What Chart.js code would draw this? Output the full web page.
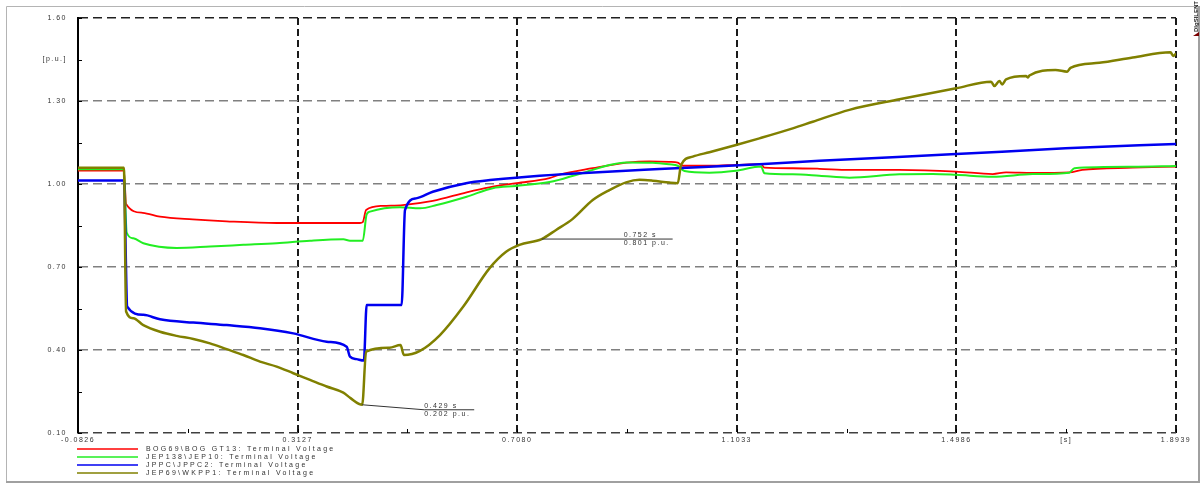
<!DOCTYPE html>
<html>
<head>
<meta charset="utf-8">
<script src="https://cdn.jsdelivr.net/npm/chart.js@4/dist/chart.umd.min.js"></script>
<style>
  body { margin: 0; background: #fff; }
  canvas { display: block; }
</style>
</head>
<body>
<canvas id="plot" width="1201" height="485"></canvas>
<script>
// tick positions / labels
const xTicks = [-0.0826, 0.1151, 0.3127, 0.5104, 0.7080, 0.9057, 1.1033, 1.3010, 1.4986, 1.6962, 1.8939];
const xTickLabels = ["-0.0826", "", "0.3127", "", "0.7080", "", "1.1033", "", "1.4986", "[s]", "1.8939"];
const yTicks = [0.10, 0.25, 0.40, 0.55, 0.70, 0.85, 1.00, 1.15, 1.30, 1.45, 1.60];
const yTickLabels = ["0.10", "", "0.40", "", "0.70", "", "1.00", "", "1.30", "[p.u.]", "1.60"];

// BOG69\BOG GT13
const timeBOG = [-0.0826, 0.0, 0.004, 0.034, 0.065, 0.124, 0.185, 0.275, 0.425, 0.430, 0.436, 0.466, 0.502, 0.556, 0.617, 0.658, 0.707, 0.766, 0.783, 0.844, 0.905, 0.946, 0.982, 0.997, 1.006, 1.054, 1.102, 1.147, 1.153, 1.204, 1.252, 1.306, 1.396, 1.498, 1.564, 1.588, 1.636, 1.702, 1.725, 1.816, 1.8939];
const voltBOG = [1.048, 1.048, 0.928, 0.896, 0.882, 0.872, 0.865, 0.859, 0.859, 0.862, 0.906, 0.921, 0.924, 0.939, 0.970, 0.988, 1.003, 1.021, 1.033, 1.057, 1.077, 1.082, 1.080, 1.077, 1.066, 1.066, 1.069, 1.072, 1.059, 1.057, 1.055, 1.051, 1.051, 1.045, 1.036, 1.042, 1.040, 1.042, 1.051, 1.059, 1.063];

// JEP138\JEP10
const timeJEP10 = [-0.0826, 0.0, 0.005, 0.017, 0.035, 0.095, 0.155, 0.215, 0.275, 0.335, 0.395, 0.407, 0.430, 0.437, 0.443, 0.497, 0.533, 0.563, 0.617, 0.664, 0.706, 0.766, 0.783, 0.844, 0.874, 0.904, 0.952, 0.982, 0.997, 1.009, 1.054, 1.102, 1.147, 1.153, 1.204, 1.252, 1.306, 1.396, 1.456, 1.498, 1.564, 1.636, 1.702, 1.711, 1.816, 1.8939];
const voltJEP10 = [1.053, 1.053, 0.824, 0.804, 0.786, 0.769, 0.774, 0.780, 0.786, 0.795, 0.800, 0.795, 0.795, 0.890, 0.900, 0.916, 0.912, 0.924, 0.954, 0.985, 0.993, 1.007, 1.015, 1.051, 1.069, 1.078, 1.077, 1.071, 1.066, 1.047, 1.041, 1.048, 1.063, 1.039, 1.035, 1.030, 1.023, 1.035, 1.036, 1.033, 1.026, 1.036, 1.041, 1.057, 1.062, 1.065];

// JPPC\JPPC2
const timeJPPC = [-0.0826, 0.0, 0.006, 0.035, 0.065, 0.125, 0.185, 0.245, 0.305, 0.365, 0.401, 0.407, 0.419, 0.432, 0.437, 0.500, 0.506, 0.526, 0.556, 0.616, 0.664, 0.706, 0.796, 0.964, 1.144, 1.252, 1.498, 1.695, 1.8939];
const voltJPPC = [1.013, 1.013, 0.557, 0.527, 0.511, 0.499, 0.490, 0.479, 0.460, 0.430, 0.412, 0.376, 0.367, 0.362, 0.563, 0.563, 0.906, 0.948, 0.972, 1.003, 1.015, 1.023, 1.036, 1.054, 1.071, 1.084, 1.108, 1.129, 1.145];

// JEP69\WKPP1
const timeWKPP = [-0.0826, 0.0, 0.004, 0.017, 0.035, 0.065, 0.095, 0.125, 0.155, 0.185, 0.215, 0.245, 0.275, 0.305, 0.335, 0.365, 0.395, 0.408, 0.429, 0.436, 0.478, 0.498, 0.504, 0.533, 0.569, 0.611, 0.658, 0.688, 0.712, 0.752, 0.778, 0.808, 0.844, 0.874, 0.904, 0.928, 0.952, 0.982, 0.997, 1.003, 1.024, 1.054, 1.102, 1.144, 1.204, 1.240, 1.306, 1.396, 1.498, 1.561, 1.567, 1.576, 1.581, 1.588, 1.624, 1.627, 1.630, 1.677, 1.698, 1.704, 1.756, 1.816, 1.884, 1.889, 1.8939];
const voltWKPP = [1.059, 1.059, 0.539, 0.515, 0.490, 0.466, 0.451, 0.440, 0.424, 0.403, 0.382, 0.358, 0.340, 0.316, 0.292, 0.268, 0.246, 0.226, 0.202, 0.394, 0.408, 0.418, 0.382, 0.397, 0.454, 0.557, 0.695, 0.755, 0.780, 0.801, 0.834, 0.874, 0.942, 0.978, 1.006, 1.015, 1.012, 1.005, 1.003, 1.069, 1.099, 1.115, 1.141, 1.165, 1.201, 1.225, 1.268, 1.306, 1.346, 1.370, 1.354, 1.372, 1.360, 1.378, 1.390, 1.385, 1.392, 1.412, 1.406, 1.420, 1.438, 1.457, 1.476, 1.463, 1.472];

// cursor labels
const markTimes = [0.429, 0.752];
const markVolts = [0.202, 0.801];

const FONT = "'Liberation Sans', Arial, sans-serif";

function pts(t, v) {
  return t.map((x, i) => ({ x: x, y: v[i] }));
}

// frame, logo, letter spacing
const framePlugin = {
  id: 'frame',
  beforeDraw(chart) {
    const ctx = chart.ctx;
    ctx.letterSpacing = '1.5px';
    ctx.save();
    ctx.strokeStyle = '#b4b4b4';
    ctx.lineWidth = 1;
    ctx.beginPath();
    ctx.moveTo(6.5, 482); ctx.lineTo(6.5, 6.5); ctx.lineTo(1199, 6.5);
    ctx.stroke();
    ctx.strokeStyle = '#a0a0a0';
    ctx.lineWidth = 2;
    ctx.beginPath();
    ctx.moveTo(6, 482); ctx.lineTo(1199, 482); ctx.lineTo(1199, 6);
    ctx.stroke();
    ctx.restore();
  },
  afterDraw(chart) {
    const ctx = chart.ctx;
    const xs = chart.scales.x, ys = chart.scales.y;
    const area = chart.chartArea;
    ctx.save();
    // inward tick marks
    ctx.strokeStyle = '#000';
    ctx.lineWidth = 1;
    ctx.beginPath();
    yTicks.forEach(v => {
      const py = Math.round(ys.getPixelForValue(v)) + 0.5;
      ctx.moveTo(area.left, py); ctx.lineTo(area.left + 4, py);
    });
    xTicks.forEach(v => {
      const px = Math.round(xs.getPixelForValue(v)) + 0.5;
      ctx.moveTo(px, area.bottom); ctx.lineTo(px, area.bottom - 4);
    });
    ctx.stroke();

    // cursor annotations
    ctx.font = '7px ' + FONT;
    ctx.fillStyle = '#333';
    ctx.strokeStyle = '#333';
    ctx.lineWidth = 1;
    const offs = [[62, 5, 112], [0, 0, 131]];
    markTimes.forEach((t, i) => {
      const px = xs.getPixelForValue(t), py = ys.getPixelForValue(markVolts[i]);
      const o = offs[i];
      ctx.beginPath();
      ctx.moveTo(px, py);
      ctx.lineTo(px + o[0], py + o[1]);
      ctx.lineTo(px + o[2], py + o[1]);
      ctx.stroke();
      const tx = i === 0 ? px + o[0] : px + 82;
      ctx.textAlign = 'left';
      ctx.textBaseline = 'bottom';
      ctx.fillText(t.toFixed(3) + ' s', tx, py + o[1]);
      ctx.textBaseline = 'top';
      ctx.fillText(markVolts[i].toFixed(3) + ' p.u.', tx, py + o[1] + 0.5);
    });

    // legend
    ctx.letterSpacing = '2.3px';
    chart.data.datasets.forEach((ds, i) => {
      const y = 449 + i * 8;
      ctx.strokeStyle = ds.borderColor;
      ctx.lineWidth = 1.5;
      ctx.beginPath();
      ctx.moveTo(77, y); ctx.lineTo(138, y);
      ctx.stroke();
      ctx.fillStyle = '#333';
      ctx.textBaseline = 'middle';
      ctx.textAlign = 'left';
      ctx.fillText(ds.label, 146, y + 0.5);
    });

    // logo
    ctx.translate(1196, 36);
    ctx.rotate(-Math.PI / 2);
    ctx.letterSpacing = '0px';
    ctx.font = 'bold 6px ' + FONT;
    ctx.fillStyle = '#222';
    ctx.textBaseline = 'middle';
    ctx.fillText('DIgSILENT', 4, 0);
    ctx.fillStyle = '#7a0000';
    ctx.beginPath();
    ctx.moveTo(0, -3); ctx.lineTo(4, 3); ctx.lineTo(0, 3);
    ctx.fill();
    ctx.restore();
  }
};

new Chart(document.getElementById('plot').getContext('2d'), {
  type: 'line',
  data: {
    datasets: [
      { label: 'BOG69\\BOG GT13: Terminal Voltage', data: pts(timeBOG, voltBOG), borderColor: '#ff0000', borderWidth: 1.8, order: 4 },
      { label: 'JEP138\\JEP10: Terminal Voltage', data: pts(timeJEP10, voltJEP10), borderColor: '#22ee22', borderWidth: 2, order: 3 },
      { label: 'JPPC\\JPPC2: Terminal Voltage', data: pts(timeJPPC, voltJPPC), borderColor: '#0000f0', borderWidth: 2.5, order: 2 },
      { label: 'JEP69\\WKPP1: Terminal Voltage', data: pts(timeWKPP, voltWKPP), borderColor: '#808000', borderWidth: 2.5, order: 1 }
    ]
  },
  options: {
    responsive: false,
    animation: false,
    events: [],
    layout: { padding: { top: 18, right: 25, left: 0, bottom: 0 } },
    plugins: { legend: { display: false }, tooltip: { enabled: false } },
    elements: { point: { radius: 0 }, line: { cubicInterpolationMode: 'monotone' } },
    scales: {
      x: {
        type: 'linear',
        min: xTicks[0],
        max: xTicks[xTicks.length - 1],
        afterBuildTicks: s => { s.ticks = xTicks.map(v => ({ value: v })); },
        afterFit: s => { s.height = 52; },
        ticks: {
          autoSkip: false, maxRotation: 0, padding: 3, color: '#333',
          font: { family: FONT, size: 7 },
          callback: (v, i) => xTickLabels[i]
        },
        grid: {
          drawTicks: false,
          lineWidth: 2,
          color: c => (c.index > 0 && xTickLabels[c.index] && xTickLabels[c.index] !== '[s]') ? '#1a1a1a' : 'rgba(0,0,0,0)'
        },
        border: { display: false, dash: [7, 4] }
      },
      y: {
        type: 'linear',
        min: yTicks[0],
        max: yTicks[yTicks.length - 1],
        afterBuildTicks: s => { s.ticks = yTicks.map(v => ({ value: v })); },
        afterFit: s => { s.width = 78; },
        ticks: {
          padding: 11, color: '#333',
          font: { family: FONT, size: 7 },
          callback: (v, i) => yTickLabels[i]
        },
        grid: {
          drawTicks: false,
          lineWidth: 1.5,
          color: c => {
            const l = yTickLabels[c.index];
            if (c.index === yTicks.length - 1) return '#202020';
            if (c.index === 0) return '#404040';
            return (l && l !== '[p.u.]') ? '#808080' : 'rgba(0,0,0,0)';
          }
        },
        border: { display: true, color: '#000', width: 2, dash: [9, 5] }
      }
    }
  },
  plugins: [framePlugin]
});
</script>
</body>
</html>
